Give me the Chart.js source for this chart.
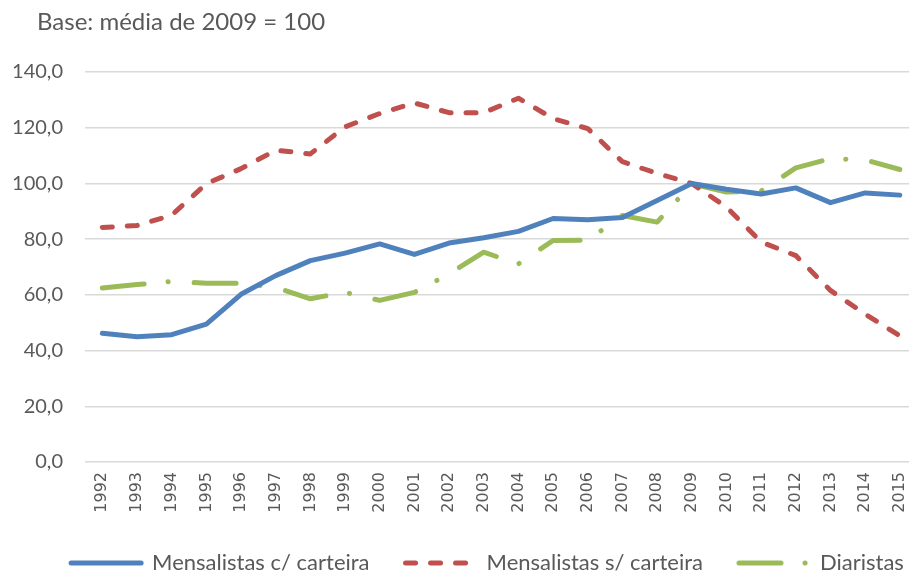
<!DOCTYPE html>
<html>
<head>
<meta charset="utf-8">
<script src="https://cdn.jsdelivr.net/npm/chart.js@4.4.0/dist/chart.umd.min.js"></script>
<style>
  html, body { margin: 0; padding: 0; background: #fff; overflow: hidden; }
  #wrap { position: relative; width: 929px; height: 574px; }
  #base { position: absolute; left: 37px; top: 6px; font-family: Lato, sans-serif; font-size: 24px; color: #595959; }
</style>
</head>
<body>
<div id="wrap">
  <div id="base">Base: média de 2009 = 100</div>
  <canvas id="grafico"></canvas>
</div>
<script>
const anos = ["1992", "1993", "1994", "1995", "1996", "1997", "1998", "1999", "2000", "2001", "2002", "2003",
  "2004", "2005", "2006", "2007", "2008", "2009", "2010", "2011", "2012", "2013", "2014", "2015"];

const comCarteira = [46.2, 45.0, 45.7, 49.5, 60.2, 66.9, 72.3, 75.0, 78.3, 74.5, 78.6, 80.5,
  82.8, 87.4, 87.0, 87.8, 93.9, 100.0, 97.9, 96.2, 98.4, 93.1, 96.6, 95.8];

const semCarteira = [84.2, 84.9, 88.6, 99.9, 105.3, 111.9, 110.6, 120.3, 125.1, 128.9, 125.4, 125.4,
  130.6, 123.3, 119.7, 107.8, 103.6, 100.0, 91.5, 79.0, 74.1, 61.6, 53.1, 45.3];

const diaristas = [62.5, 63.7, 64.8, 64.2, 64.2, 62.7, 58.6, 60.9, 58.0, 60.9, 67.5, 75.3,
  71.1, 79.5, 79.6, 88.5, 86.1, 99.8, 96.9, 97.3, 105.6, 108.9, 108.5, 105.0];

const yTicks = [0, 20, 40, 60, 80, 100, 120, 140];

const cinza = "#595959";

// legenda um pouco deslocada para a direita, como no original
const moverLegenda = {
  id: "moverLegenda",
  afterLayout(chart) {
    chart.legend.left += 23;
    chart.legend.right += 23;
  },
};

new Chart(document.getElementById("grafico"), {
  type: "line",
  data: {
    labels: anos,
    datasets: [
      {
        label: "Mensalistas c/ carteira",
        data: comCarteira,
        borderColor: "#4f81bd",
        backgroundColor: "#4f81bd",
        borderWidth: 5,
        borderCapStyle: "round",
        borderJoinStyle: "round",
      },
      {
        label: "Mensalistas s/ carteira",
        data: semCarteira,
        borderColor: "#c0504d",
        backgroundColor: "#c0504d",
        borderWidth: 5,
        borderDash: [10, 15],
        borderCapStyle: "round",
        borderJoinStyle: "round",
      },
      {
        label: "Diaristas",
        data: diaristas,
        borderColor: "#9bbb59",
        backgroundColor: "#9bbb59",
        borderWidth: 5,
        borderDash: [42, 24, 0.1, 26],
        borderCapStyle: "round",
        borderJoinStyle: "round",
      },
    ],
  },
  plugins: [moverLegenda],
  options: {
    responsive: true,
    maintainAspectRatio: false,
    animation: false,
    layout: { padding: { top: 72, left: 0, right: 0, bottom: -10 } },
    elements: { point: { radius: 0, hoverRadius: 0 }, line: { tension: 0 } },
    plugins: {
      tooltip: { enabled: false },
      legend: {
        position: "bottom",
        labels: {
          usePointStyle: true,
          pointStyle: "line",
          pointStyleWidth: 70,
          padding: 36,
          color: cinza,
          font: { family: "Lato", size: 22 },
          generateLabels: (chart) =>
            chart.data.datasets.map((ds, i) => ({
              text: ds.label,
              fillStyle: ds.borderColor,
              strokeStyle: ds.borderColor,
              fontColor: cinza,
              lineWidth: 5,
              lineDash: ds.borderDash || [],
              lineCap: "round",
              pointStyle: "line",
              hidden: false,
              datasetIndex: i,
            })),
        },
      },
    },
    scales: {
      x: {
        offset: true,
        grid: { display: false, drawTicks: false },
        border: { display: false },
        afterFit: (scale) => {
          scale.height = 54;
        },
        ticks: {
          color: cinza,
          font: { family: "DejaVu Sans", size: 16 },
          minRotation: 90,
          maxRotation: 90,
          autoSkip: false,
          padding: 10,
        },
      },
      y: {
        min: 0,
        max: 140,
        afterBuildTicks: (scale) => {
          scale.ticks = yTicks.map((v) => ({ value: v }));
        },
        afterFit: (scale) => {
          scale.width = 85;
        },
        grid: { color: "#d9d9d9", lineWidth: 1.5, drawTicks: false },
        border: { display: false },
        ticks: {
          color: cinza,
          font: { family: "Lato", size: 20 },
          padding: 22,
          callback: (v) => v.toFixed(1).replace(".", ","),
        },
      },
    },
  },
});
</script>
</body>
</html>
